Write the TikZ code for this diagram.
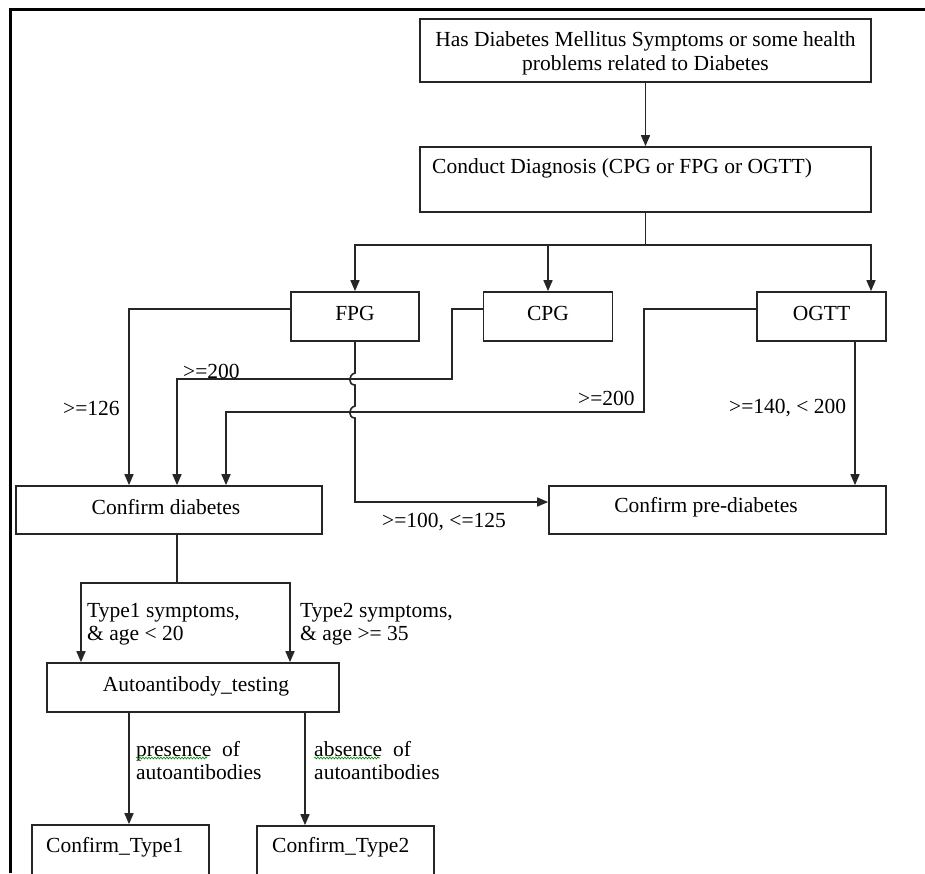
\documentclass[tikz,border=0pt]{standalone}
\usepackage{fontspec}
\setmainfont{Liberation Serif}
\usetikzlibrary{arrows.meta,decorations.pathmorphing}
\begin{document}
\begin{tikzpicture}[x=1pt,y=-1pt,
  box/.style={draw=black!85, line width=1.7pt, rectangle, inner sep=0pt},
  txt/.style={inner sep=0pt, font=\fontsize{21.5}{24}\selectfont},
  lbl/.style={inner sep=0pt, anchor=west, align=left, font=\fontsize{21.5}{23}\selectfont},
  ln/.style={draw=black!85, line width=1.6pt},
  arr/.style={draw=black!85, line width=1.6pt, -{Triangle[length=11pt,width=9pt]}},
  wavy/.style={draw=green!55!black, line width=0.6pt, decorate, decoration={snake, amplitude=0.9pt, segment length=3pt}}
]
\useasboundingbox (0,0) rectangle (925,873);
\clip (0,0) rectangle (925,873);
% frame
\draw[line width=3pt, line join=miter] (10.5,873) -- (10.5,9.5) -- (925,9.5);

% boxes
\node[box, minimum width=451pt, minimum height=63pt] (top) at (645.5,50.5) {};
\node[box, minimum width=451pt, minimum height=65pt] (diag) at (645.5,179.5) {};
\node[box, minimum width=128pt, minimum height=49pt] (fpg) at (355,316.5) {};
\node[box, minimum width=129pt, minimum height=49pt] (cpg) at (548,316.5) {};
\node[box, minimum width=129pt, minimum height=49pt] (ogtt) at (821.5,316.5) {};
\node[box, minimum width=306pt, minimum height=48pt] (cd) at (169,510) {};
\node[box, minimum width=337pt, minimum height=48pt] (pd) at (717.5,510) {};
\node[box, minimum width=292pt, minimum height=49pt] (ab) at (193,687.5) {};
\node[box, minimum width=177pt, minimum height=60pt] (t1) at (120.5,855) {};
\node[box, minimum width=177pt, minimum height=60pt] (t2) at (345.5,856) {};

% box texts
\node[txt, align=center] (topT) at (645.5,53) {Has Diabetes Mellitus Symptoms or some health\\problems related to Diabetes};
\node[txt, anchor=west] (diagT) at (432,168) {Conduct Diagnosis (CPG or FPG or OGTT)};
\node[txt] (fpgT) at (355,313) {FPG};
\node[txt] (cpgT) at (548,313) {CPG};
\node[txt] (ogttT) at (821.5,313) {OGTT};
\node[txt] (cdT) at (166,507) {Confirm diabetes};
\node[txt] (pdT) at (706,507) {Confirm pre-diabetes};
\node[txt] (abT) at (196,686) {Autoantibody\_testing};
\node[txt, anchor=west] (t1T) at (46,847) {Confirm\_Type1};
\node[txt, anchor=west] (t2T) at (272,847) {Confirm\_Type2};

% connectors
\coordinate (split) at (645.5,245);
\draw[arr] (top.south) -- (diag.north);
\draw[ln] (diag.south) -- (split);
\draw[arr] (split) -| (fpg.north);
\draw[arr] (split) -| (cpg.north);
\draw[arr] (split) -| ([xshift=49.5pt]ogtt.north);

\draw[arr] ([yshift=7.5pt]fpg.west) -| ([xshift=-40pt]cd.north);
\draw[arr] ([yshift=7.5pt]cpg.west) -| (452,379) -| ([xshift=8pt]cd.north);
\draw[arr] ([yshift=7.5pt]ogtt.west) -| (644,412) -| ([xshift=57pt]cd.north);
\draw[arr] (fpg.south) -- (355,373) .. controls (348,375) and (348,385) .. (355,385)
  -- (355,406) .. controls (348,408) and (348,418) .. (355,418)
  -- (355,502) -- ([yshift=8pt]pd.west);
\draw[arr] ([xshift=33.5pt]ogtt.south) -- ([xshift=33.5pt]ogtt.south |- pd.north);

\coordinate (split2) at (177,583);
\draw[ln] ([xshift=8pt]cd.south) -- (split2);
\draw[arr] (split2) -| ([xshift=-112pt]ab.north);
\draw[arr] (split2) -| ([xshift=97pt]ab.north);

\draw[arr] ([xshift=-64pt]ab.south) -- ([xshift=-64pt]ab.south |- t1.north);
\draw[arr] ([xshift=112pt]ab.south) -- ([xshift=112pt]ab.south |- t2.north);

% labels
\node[lbl] (l1) at (183,371) {>=200};
\node[lbl] (l2) at (63,408) {>=126};
\node[lbl] (l3) at (578,398) {>=200};
\node[lbl] (l4) at (729,408) {>=140, < 200};
\node[lbl] (l5) at (382,522) {>=100, <=125};
\node[lbl] (l6) at (87,624) {Type1 symptoms,\\\& age < 20};
\node[lbl] (l7) at (300,624) {Type2 symptoms,\\\& age >= 35};
\node[lbl] (l8) at (136,761) {presence\ \ of\\autoantibodies};
\node[lbl] (l9) at (314,761) {absence\ \ of\\autoantibodies};
\draw[wavy] (136,758) -- (207,758);
\draw[wavy] (314,758) -- (380,758);
\end{tikzpicture}
\end{document}
